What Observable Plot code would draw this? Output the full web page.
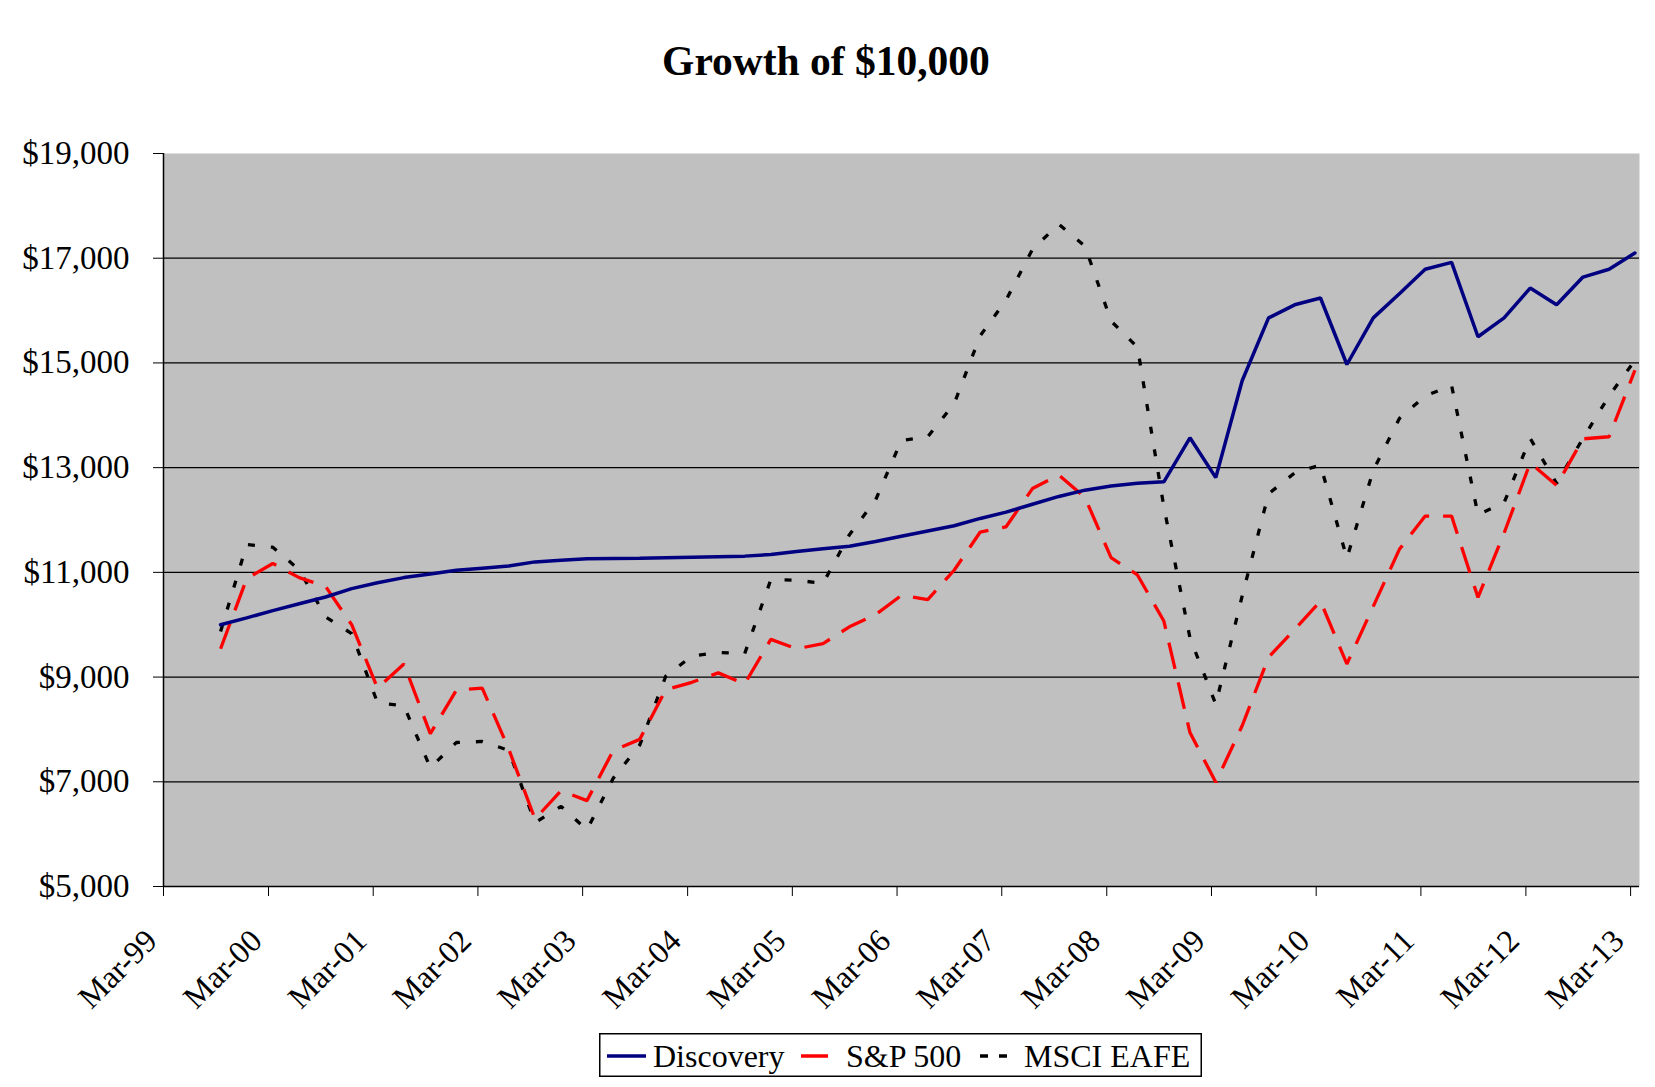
<!DOCTYPE html>
<html>
<head>
<meta charset="utf-8">
<script src="https://cdn.jsdelivr.net/npm/d3@7"></script>
<script src="https://cdn.jsdelivr.net/npm/@observablehq/plot@0.6"></script>
<style>
  html, body { margin: 0; padding: 0; background: #fff; }
  #wrap { position: relative; width: 1655px; height: 1087px; overflow: hidden; background: #fff;
          font-family: "Liberation Serif", "Times New Roman", serif; color: #000; }
  #title { position: absolute; left: 0; top: 36px; width: 1652px; text-align: center;
           font-size: 41.5px; font-weight: bold; line-height: 50px; white-space: nowrap; }
  #chart { position: absolute; left: 0; top: 100px; }
  #legend { position: absolute; left: 599px; top: 1033px; }
</style>
</head>
<body>
<div id="wrap">
  <div id="title">Growth of $10,000</div>
  <div id="chart"></div>
  <div id="legend"></div>
</div>
<script>
// ---- Data ----
const quarters = [
  "Sep-99","Dec-99",
  "Mar-00","Jun-00","Sep-00","Dec-00",
  "Mar-01","Jun-01","Sep-01","Dec-01",
  "Mar-02","Jun-02","Sep-02","Dec-02",
  "Mar-03","Jun-03","Sep-03","Dec-03",
  "Mar-04","Jun-04","Sep-04","Dec-04",
  "Mar-05","Jun-05","Sep-05","Dec-05",
  "Mar-06","Jun-06","Sep-06","Dec-06",
  "Mar-07","Jun-07","Sep-07","Dec-07",
  "Mar-08","Jun-08","Sep-08","Dec-08",
  "Mar-09","Jun-09","Sep-09","Dec-09",
  "Mar-10","Jun-10","Sep-10","Dec-10",
  "Mar-11","Jun-11","Sep-11","Dec-11",
  "Mar-12","Jun-12","Sep-12","Dec-12",
  "Mar-13"
];

const discovery = [
  10000, 10130,
  10270, 10400, 10530, 10690,
  10800, 10900, 10970, 11040,
  11080, 11120, 11200, 11230,
  11260, 11265, 11270, 11280,
  11290, 11300, 11310, 11340,
  11400, 11450, 11500, 11590,
  11690, 11790, 11890, 12030,
  12150, 12300, 12450, 12570,
  12650, 12700, 12730, 13570,
  12810, 14660, 15860, 16110,
  16240, 14970, 15860, 16320,
  16790, 16920, 15500, 15860,
  16430, 16110, 16640, 16790,
  17100
];

const sp500 = [
  9540, 10880,
  11170, 10900, 10730, 10000,
  8790, 9250, 7920, 8750,
  8790, 7630, 6290, 6830,
  6640, 7600, 7810, 8760,
  8900, 9080, 8870, 9720,
  9540, 9640, 9960, 10190,
  10560, 10480, 11040, 11770,
  11870, 12600, 12860, 12430,
  11280, 10950, 10070, 7940,
  6990, 8070, 9380, 9910,
  10450, 9250, 10350, 11440,
  12075, 12075, 10520, 11750,
  13090, 12660, 13550, 13590,
  14860
];

const msciEafe = [
  9870, 11530,
  11480, 11050, 10150, 9830,
  8510, 8450, 7270, 7750,
  7770, 7600, 6220, 6530,
  6080, 7070, 7700, 9020,
  9400, 9470, 9450, 10860,
  10850, 10790, 11720, 12380,
  13520, 13590, 14220, 15520,
  16200, 17170, 17650, 17230,
  15800, 15300, 12250, 9750,
  8480, 10550, 12500, 12900,
  13050, 11270, 12950, 13940,
  14370, 14570, 12100, 12330,
  13560, 12700, 13560, 14370,
  15050
];

const seriesNames = ["Discovery", "S&P 500", "MSCI EAFE"];
const seriesColors = ["#000080", "#ff0000", "#000000"];

const xTickLabels = ["Mar-99","Mar-00","Mar-01","Mar-02","Mar-03","Mar-04","Mar-05",
                     "Mar-06","Mar-07","Mar-08","Mar-09","Mar-10","Mar-11","Mar-12","Mar-13"];
const yTicks = [5000, 7000, 9000, 11000, 13000, 15000, 17000, 19000];
const gridValues = [7000, 9000, 11000, 13000, 15000, 17000];

// ---- Build table ----
const parseMonth = d3.utcParse("%b-%y");
// each point sits in the middle of its month slot (date axis with month base unit)
const midMonth = (label) => d3.utcDay.offset(parseMonth(label), 15);
const tickDates = xTickLabels.map(parseMonth);

const valuesBySeries = [discovery, sp500, msciEafe];
const rows = [];
seriesNames.forEach((name, s) => {
  quarters.forEach((q, i) => {
    const v = valuesBySeries[s][i];
    if (v != null) rows.push({series: name, date: midMonth(q), value: v});
  });
});

const xStart = parseMonth(xTickLabels[0]);
const xEnd = d3.utcMonth.offset(parseMonth(xTickLabels[xTickLabels.length - 1]), 1);

const fontFamily = "'Liberation Serif', 'Times New Roman', serif";

const chart = Plot.plot({
  width: 1655,
  height: 925,
  marginTop: 53,
  marginBottom: 139,
  marginLeft: 163,
  marginRight: 16,
  style: `font-family: ${fontFamily}; font-size: 33px; color: #000; background: transparent; overflow: visible;`,
  x: {
    type: "utc",
    domain: [xStart, xEnd],
    ticks: tickDates,
    tickSize: 10,
    tickFormat: () => "",
    label: null
  },
  y: {
    domain: [5000, 19000],
    ticks: yTicks,
    tickSize: 10,
    tickPadding: 24,
    tickFormat: d3.format("$,"),
    label: null
  },
  marks: [
    Plot.frame({fill: "#c0c0c0", stroke: "none"}),
    Plot.ruleY(gridValues, {stroke: "#000", strokeWidth: 1.2}),
    Plot.ruleY([5000], {stroke: "#000", strokeWidth: 1.5}),
    Plot.ruleX([xStart], {stroke: "#000", strokeWidth: 1.5}),
    Plot.text(xTickLabels, {
      x: (d) => parseMonth(d),
      text: (d) => d,
      frameAnchor: "bottom",
      rotate: -45,
      textAnchor: "end",
      lineAnchor: "middle",
      fontSize: 32,
      dx: -12,
      dy: 49,
      fill: "#000"
    }),
    Plot.line(rows.filter(d => d.series === "MSCI EAFE"), {
      x: "date", y: "value", stroke: seriesColors[2], strokeWidth: 3.3,
      strokeDasharray: "7,16", strokeLinecap: "butt", strokeLinejoin: "miter", curve: "linear"
    }),
    Plot.line(rows.filter(d => d.series === "S&P 500"), {
      x: "date", y: "value", stroke: seriesColors[1], strokeWidth: 3.3,
      strokeDasharray: "27,14", strokeLinecap: "butt", strokeLinejoin: "miter", curve: "linear"
    }),
    Plot.line(rows.filter(d => d.series === "Discovery"), {
      x: "date", y: "value", stroke: seriesColors[0], strokeWidth: 3.5,
      strokeLinejoin: "miter", curve: "linear"
    })
  ]
});
document.getElementById("chart").appendChild(chart);

// ---- Legend (below the chart) ----
const legendW = 603, legendH = 44;
const lg = d3.select("#legend").append("svg")
  .attr("width", legendW).attr("height", legendH)
  .style("display", "block")
  .style("font-family", fontFamily)
  .style("font-size", "32px");
lg.append("rect").attr("x", 0.75).attr("y", 0.75)
  .attr("width", legendW - 1.5).attr("height", legendH - 1.5)
  .attr("fill", "#fff").attr("stroke", "#000").attr("stroke-width", 1.5);
const legendItems = [
  {name: seriesNames[0], color: seriesColors[0], x1: 8, x2: 47, dash: null, tx: 54},
  {name: seriesNames[1], color: seriesColors[1], x1: 202, x2: 229, dash: null, tx: 247},
  {name: seriesNames[2], color: seriesColors[2], x1: 381, x2: 408, dash: "8,11", tx: 425}
];
legendItems.forEach(it => {
  lg.append("line").attr("x1", it.x1).attr("x2", it.x2).attr("y1", 23).attr("y2", 23)
    .attr("stroke", it.color).attr("stroke-width", 3.5)
    .attr("stroke-dasharray", it.dash);
  lg.append("text").attr("x", it.tx).attr("y", 23).attr("dy", "0.35em")
    .attr("fill", "#000").text(it.name);
});
</script>
</body>
</html>
